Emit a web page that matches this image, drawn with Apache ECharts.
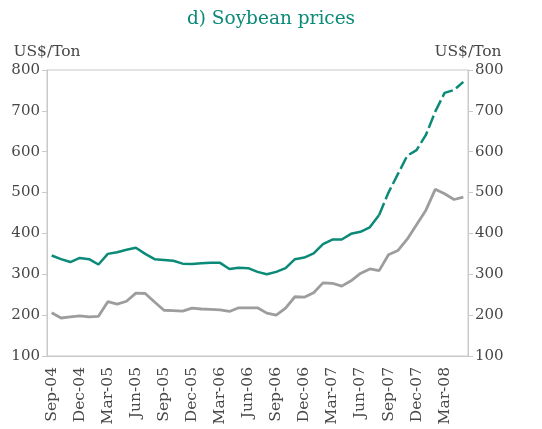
<!DOCTYPE html>
<html lang="en">
<head>
    <meta charset="UTF-8">
    <title>d) Soybean prices</title>
    <script src="https://cdn.jsdelivr.net/npm/echarts@6/dist/echarts.min.js"></script>
    <style>
        html, body { margin: 0; padding: 0; background: #fff; }
        #myCharts { width: 542px; height: 429px; }
    </style>
</head>
<body>
<div id="myCharts"></div>

<script>
    // monthly, Sep-04 .. May-08
    const months = [
        'Sep-04', 'Oct-04', 'Nov-04', 'Dec-04', 'Jan-05', 'Feb-05', 'Mar-05', 'Apr-05', 'May-05',
        'Jun-05', 'Jul-05', 'Aug-05', 'Sep-05', 'Oct-05', 'Nov-05', 'Dec-05', 'Jan-06', 'Feb-06',
        'Mar-06', 'Apr-06', 'May-06', 'Jun-06', 'Jul-06', 'Aug-06', 'Sep-06', 'Oct-06', 'Nov-06',
        'Dec-06', 'Jan-07', 'Feb-07', 'Mar-07', 'Apr-07', 'May-07', 'Jun-07', 'Jul-07', 'Aug-07',
        'Sep-07', 'Oct-07', 'Nov-07', 'Dec-07', 'Jan-08', 'Feb-08', 'Mar-08', 'Apr-08', 'May-08'
    ];

    // green line (solid up to Aug-07, dashed after)
    const greenValues = [
        346, 337, 330, 340, 337, 324, 350, 354, 360,
        365, 350, 337, 335, 333, 326, 325, 327, 328,
        328, 313, 316, 315, 306, 300, 306, 315, 337,
        341, 351, 374, 385, 385, 399, 404, 415, 445,
        500, 545, 590, 604, 641, 698, 744, 751, 771
    ];

    // grey line
    const greyValues = [
        206, 193, 196, 198, 196, 197, 233, 227, 234,
        254, 253, 232, 212, 211, 210, 217, 215, 214,
        213, 209, 218, 218, 218, 205, 200, 217, 245,
        244, 255, 279, 278, 271, 284, 302, 313, 309,
        348, 358, 386, 421, 457, 508, 497, 483, 489
    ];

    const dashFrom = 35; // index where the green line turns dashed

    const yTicks = { min: 100, max: 800, interval: 100 };

    const serif = 'DejaVu Serif';
    const green = '#0b8a77';
    const grey = '#9d9d9d';
    const textGrey = '#474747';
    const lineGrey = '#c9c9c9';

    let solidPart = greenValues.map((v, i) => i <= dashFrom ? v : null);
    let dashedPart = greenValues.map((v, i) => i >= dashFrom ? v : null);

    let yAxisBase = (pos) => ({
        type: 'value',
        position: pos,
        min: yTicks.min,
        max: yTicks.max,
        interval: yTicks.interval,
        name: 'US$/Ton',
        nameLocation: 'end',
        nameGap: 10,
        nameTextStyle: {color: textGrey, fontFamily: serif, fontSize: 15.5},
        axisLine: {show: true, lineStyle: {color: lineGrey, width: 1}},
        axisTick: {show: true, length: 5, lineStyle: {color: lineGrey}},
        axisLabel: {color: textGrey, fontFamily: serif, fontSize: 15, margin: 7},
        splitLine: {show: false}
    });

    let myChart = echarts.init(document.getElementById('myCharts'));
    myChart.setOption({
        animation: false,
        backgroundColor: '#ffffff',
        title: {
            text: 'd) Soybean prices',
            left: 'center',
            top: 5,
            textStyle: {color: green, fontFamily: serif, fontSize: 18.5, fontWeight: 'normal'}
        },
        grid: {
            left: 47,
            right: 74,
            top: 70,
            bottom: 73,
            show: true,
            borderColor: lineGrey,
            borderWidth: 1
        },
        xAxis: {
            type: 'category',
            data: months,
            boundaryGap: true,
            axisLine: {show: true, lineStyle: {color: lineGrey}},
            axisTick: {show: false},
            axisLabel: {
                interval: 2,
                rotate: 90,
                color: textGrey,
                fontFamily: serif,
                fontSize: 15.5,
                margin: 11
            }
        },
        yAxis: [yAxisBase('left'), yAxisBase('right')],
        series: [
            {
                name: 'grey',
                type: 'line',
                data: greyValues,
                showSymbol: false,
                lineStyle: {color: grey, width: 2.8}
            },
            {
                name: 'green',
                type: 'line',
                data: solidPart,
                showSymbol: false,
                lineStyle: {color: green, width: 2.5}
            },
            {
                name: 'green dashed',
                type: 'line',
                data: dashedPart,
                showSymbol: false,
                lineStyle: {color: green, width: 2.5, type: [13, 4]}
            }
        ]
    });
</script>

</body>
</html>
